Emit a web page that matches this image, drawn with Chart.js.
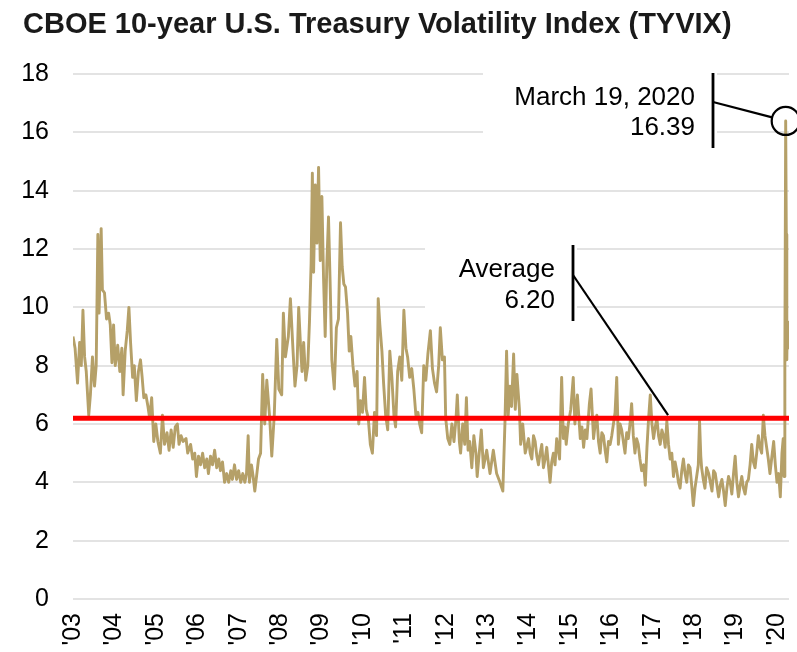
<!DOCTYPE html>
<html>
<head>
<meta charset="utf-8">
<title>TYVIX</title>
<script src="https://cdn.jsdelivr.net/npm/chart.js@4"></script>
<style>
  html, body { margin: 0; padding: 0; background: #fff; }
  canvas { display: block; }
</style>
</head>
<body>
<canvas id="chart" width="797" height="652"></canvas>
<script>
// dates as decimal years
const dates = [
  2003.00,2003.05,2003.11,2003.16,2003.20,2003.24,2003.28,2003.32,2003.38,2003.42,2003.47,2003.52,2003.56,2003.60,2003.63,2003.68,2003.71,2003.76,2003.81,2003.86,2003.90,2003.94,2003.98,
  2004.02,2004.08,2004.13,2004.18,2004.21,2004.26,2004.31,2004.35,2004.39,2004.44,2004.48,2004.53,2004.58,2004.63,2004.67,2004.71,2004.76,2004.81,2004.85,2004.90,2004.95,
  2005.00,2005.05,2005.11,2005.16,2005.21,2005.27,2005.32,2005.37,2005.42,2005.47,2005.52,2005.56,2005.61,2005.66,2005.73,2005.77,2005.84,2005.89,2005.94,2005.98,
  2006.03,2006.08,2006.13,2006.18,2006.23,2006.27,2006.32,2006.37,2006.42,2006.47,2006.52,2006.56,2006.61,2006.66,2006.71,2006.76,2006.81,2006.85,2006.90,2006.95,
  2007.00,2007.05,2007.10,2007.15,2007.19,2007.23,2007.26,2007.31,2007.35,2007.39,2007.44,2007.48,2007.53,2007.58,2007.63,2007.68,2007.75,2007.80,2007.86,2007.92,2007.97,
  2008.04,2008.08,2008.13,2008.20,2008.25,2008.31,2008.36,2008.41,2008.45,2008.49,2008.53,2008.57,2008.62,2008.67,2008.71,2008.75,2008.78,2008.81,2008.85,2008.89,2008.93,2008.97,
  2009.01,2009.05,2009.09,2009.13,2009.17,2009.21,2009.25,2009.31,2009.36,2009.41,2009.46,2009.50,2009.54,2009.58,2009.63,2009.67,2009.71,2009.76,2009.81,2009.86,2009.90,2009.94,2009.99,
  2010.04,2010.08,2010.13,2010.18,2010.23,2010.28,2010.33,2010.37,2010.41,2010.46,2010.50,2010.55,2010.60,2010.65,2010.70,2010.75,2010.79,2010.84,2010.89,2010.94,2010.99,
  2011.04,2011.08,2011.13,2011.18,2011.23,2011.28,2011.33,2011.37,2011.42,2011.47,2011.52,2011.57,2011.63,2011.68,2011.73,2011.78,2011.83,2011.87,2011.92,2011.97,
  2012.00,2012.05,2012.10,2012.15,2012.20,2012.25,2012.28,2012.33,2012.36,2012.41,2012.46,2012.50,2012.54,2012.58,2012.63,2012.68,2012.73,2012.76,2012.81,2012.86,2012.91,2012.99,
  2013.07,2013.15,2013.23,2013.31,2013.38,2013.43,2013.47,2013.51,2013.55,2013.59,2013.64,2013.68,2013.72,2013.78,2013.81,2013.86,2013.92,
  2014.00,2014.04,2014.08,2014.12,2014.16,2014.20,2014.24,2014.28,2014.32,2014.36,2014.40,2014.44,2014.48,2014.52,2014.56,2014.60,2014.64,2014.68,2014.72,2014.75,2014.80,2014.84,2014.88,2014.91,2014.96,
  2015.02,2015.08,2015.12,2015.18,2015.25,2015.29,2015.33,2015.37,2015.41,2015.47,2015.51,2015.57,2015.61,2015.65,2015.69,2015.73,2015.77,2015.81,2015.85,2015.89,2015.93,2015.97,
  2016.01,2016.05,2016.09,2016.13,2016.17,2016.21,2016.25,2016.29,2016.33,2016.37,2016.41,2016.45,2016.49,2016.53,2016.57,2016.61,2016.65,2016.69,2016.73,2016.78,2016.82,2016.86,2016.90,2016.94,2016.98,
  2017.02,2017.06,2017.10,2017.14,2017.18,2017.22,2017.26,2017.30,2017.34,2017.38,2017.42,2017.46,2017.50,2017.54,2017.58,2017.62,2017.66,2017.70,2017.74,2017.78,2017.82,2017.86,2017.90,2017.94,2017.98,
  2018.02,2018.06,2018.10,2018.13,2018.16,2018.18,2018.22,2018.26,2018.30,2018.35,2018.39,2018.43,2018.47,2018.51,2018.55,2018.59,2018.63,2018.67,2018.71,2018.75,2018.79,2018.83,2018.87,2018.91,2018.95,2018.99,
  2019.03,2019.07,2019.11,2019.15,2019.19,2019.23,2019.27,2019.31,2019.35,2019.39,2019.43,2019.47,2019.51,2019.55,2019.59,2019.63,2019.67,2019.71,2019.75,2019.79,2019.83,2019.87,2019.92,2019.96,
  2020.00,2020.04,2020.08,2020.12,2020.15,2020.17,2020.19,2020.21,2020.225,2020.235,2020.24,2020.25,2020.26
];
const tyvix = [
  9.0,8.6,7.4,8.8,8.0,9.9,8.3,7.8,6.3,7.0,8.3,7.3,8.0,12.5,9.8,12.7,10.6,10.5,9.6,9.8,9.4,8.1,9.4,
  8.0,8.7,7.8,8.6,7.0,8.5,9.2,10.0,8.8,7.6,8.0,6.8,7.8,8.2,7.6,6.9,7.0,6.6,6.2,6.9,5.4,
  6.0,5.4,5.0,6.3,5.3,5.7,5.1,5.8,5.2,5.9,6.0,5.3,5.6,5.4,5.5,5.0,5.3,4.8,5.0,4.2,
  4.9,4.6,5.0,4.5,4.8,4.3,4.9,4.6,5.1,4.5,4.8,4.4,4.7,4.0,4.3,4.0,4.4,4.1,4.6,4.1,
  4.4,4.0,4.3,4.0,4.3,5.6,4.0,4.6,4.2,3.7,4.3,4.8,5.0,7.7,6.0,7.5,6.2,4.9,6.3,8.9,7.2,
  7.0,9.8,8.3,9.0,10.3,8.6,7.3,8.0,10.0,8.8,7.8,8.8,7.5,8.0,9.5,11.5,14.6,11.2,14.2,12.2,14.8,11.6,
  13.8,11.0,9.0,11.5,13.1,10.8,8.2,7.2,9.3,9.6,12.9,11.4,10.8,10.7,9.8,8.5,9.0,8.0,7.3,7.8,6.0,6.8,6.4,
  7.6,6.5,6.2,5.3,5.0,6.4,5.6,10.3,9.4,8.5,7.4,6.3,5.8,8.5,7.6,6.3,5.9,7.8,8.3,7.5,9.9,
  8.6,8.3,7.6,7.9,7.2,6.3,6.4,6.0,5.7,8.0,7.5,8.4,9.2,7.9,7.4,7.1,8.0,9.3,8.2,8.3,
  6.2,5.5,5.3,6.0,5.4,6.2,7.0,5.4,5.0,6.0,5.3,6.9,5.1,5.4,4.5,5.6,5.0,4.2,5.0,5.8,4.5,5.1,
  4.3,5.1,4.3,4.0,3.7,6.0,8.5,6.3,7.3,6.6,8.4,6.5,7.7,6.5,5.3,6.0,5.0,
  5.5,5.0,4.8,5.6,5.4,4.9,4.6,5.0,5.3,4.5,4.8,5.2,4.6,4.0,4.7,5.0,4.6,5.5,5.1,4.8,7.6,5.5,5.9,5.3,6.0,
  6.5,7.6,6.0,7.0,5.5,5.9,5.2,5.8,5.5,6.7,7.2,5.5,6.0,6.3,5.4,5.0,5.7,5.6,5.1,4.7,5.4,5.3,
  5.6,6.0,6.4,7.6,5.3,6.0,5.8,5.4,5.0,5.7,5.5,6.0,6.7,5.6,5.0,5.5,5.3,4.8,4.4,4.6,3.9,5.2,6.2,7.0,6.0,
  5.5,5.9,6.2,5.6,5.3,5.8,5.6,5.2,6.1,5.3,4.8,5.0,4.2,4.7,4.4,4.0,3.8,4.4,4.8,4.3,4.0,4.6,4.5,3.9,3.2,
  3.8,4.2,4.6,6.1,4.9,4.5,4.1,3.8,4.5,4.3,4.0,3.7,4.4,4.3,3.9,3.5,3.9,4.1,3.7,3.2,3.8,4.2,4.0,3.6,4.3,4.9,
  4.0,3.5,3.9,4.2,3.8,3.6,4.0,4.1,4.6,5.3,4.7,4.5,5.0,5.6,5.2,5.0,6.3,5.6,5.2,4.8,4.3,4.8,5.4,4.6,
  4.0,4.3,3.5,5.0,5.5,4.2,8.3,16.39,12.5,9.6,8.2,9.5,8.6
];
const average = 6.20;
const peakDate = 2020.21;
const peakValue = 16.39;
const avgPointDate = 2017.37;

const yearTicks = [2003,2004,2005,2006,2007,2008,2009,2010,2011,2012,2013,2014,2015,2016,2017,2018,2019,2020];
const yearLabels = ["'03","'04","'05","'06","'07","'08","'09","'10","'11","'12","'13","'14","'15","'16","'17","'18","'19","'20"];

const FONT = '"Liberation Sans", Arial, sans-serif';

// title + callouts drawn on the canvas
const callouts = {
  id: 'callouts',
  beforeDatasetsDraw(chart) {
    const ctx = chart.ctx;
    ctx.save();
    // white boxes behind the callout text hide the gridlines
    ctx.fillStyle = '#fff';
    ctx.fillRect(483, 62, 234, 90);
    ctx.fillRect(425, 236, 152, 90);
    ctx.fillStyle = '#000';
    ctx.font = '26px ' + FONT;
    ctx.textAlign = 'right';
    ctx.textBaseline = 'alphabetic';
    ctx.fillText('March 19, 2020', 695, 105);
    ctx.fillText(peakValue.toFixed(2), 695, 135);
    ctx.fillText('Average', 555, 277);
    ctx.fillText(average.toFixed(2), 555, 308);
    ctx.restore();
  },
  afterDatasetsDraw(chart) {
    const { ctx, scales: { x, y } } = chart;
    ctx.save();
    ctx.strokeStyle = '#000';
    ctx.lineWidth = 2.8;
    ctx.beginPath();
    ctx.moveTo(713, 73); ctx.lineTo(713, 148);
    ctx.moveTo(573, 245); ctx.lineTo(573, 321);
    ctx.stroke();

    ctx.lineWidth = 2.2;
    const cx = x.getPixelForValue(peakDate);
    const cy = y.getPixelForValue(peakValue);
    const r = 14;
    ctx.beginPath();
    ctx.arc(cx, cy, r, 0, Math.PI * 2);
    ctx.stroke();

    const sx = 713, sy = 102;
    const a = Math.atan2(cy - sy, cx - sx);
    ctx.beginPath();
    ctx.moveTo(sx, sy);
    ctx.lineTo(cx - r * Math.cos(a), cy - r * Math.sin(a));
    ctx.stroke();

    ctx.beginPath();
    ctx.moveTo(573, 275);
    ctx.lineTo(x.getPixelForValue(avgPointDate), y.getPixelForValue(average) - 3);
    ctx.stroke();
    ctx.restore();
  },
  afterDraw(chart) {
    const ctx = chart.ctx;
    ctx.save();
    ctx.fillStyle = '#1a1a1a';
    ctx.font = 'bold 29px ' + FONT;
    ctx.textAlign = 'left';
    ctx.textBaseline = 'alphabetic';
    ctx.fillText('CBOE 10-year U.S. Treasury Volatility Index (TYVIX)', 23, 33);
    ctx.restore();
  }
};

new Chart(document.getElementById('chart'), {
  type: 'line',
  data: {
    datasets: [
      {
        label: 'Average',
        data: [{ x: yearTicks[0], y: average }, { x: 2020.29, y: average }],
        borderColor: '#ff0000',
        borderWidth: 5,
        pointRadius: 0,
        order: 0
      },
      {
        label: 'TYVIX',
        data: dates.map((d, i) => ({ x: d, y: tyvix[i] })),
        borderColor: '#b5a068',
        borderWidth: 2.9,
        borderJoinStyle: 'round',
        pointRadius: 0,
        tension: 0,
        order: 1
      }
    ]
  },
  options: {
    responsive: false,
    animation: false,
    devicePixelRatio: 1,
    layout: { padding: { top: 74, right: 8, left: 0, bottom: 0 } },
    plugins: {
      legend: { display: false },
      tooltip: { enabled: false },
      title: { display: false }
    },
    scales: {
      x: {
        type: 'linear',
        min: 2003,
        max: 2020.29,
        afterBuildTicks: (scale) => { scale.ticks = yearTicks.map(v => ({ value: v })); },
        afterFit: (scale) => {
          scale.height = 53;
          scale.paddingLeft = 0;
          scale.paddingRight = 0;
        },
        grid: { display: false },
        border: { display: false },
        ticks: {
          autoSkip: false,
          minRotation: 90,
          maxRotation: 90,
          padding: 6,
          color: '#000',
          font: { family: FONT, size: 25 },
          callback: (v) => yearLabels[yearTicks.indexOf(v)]
        }
      },
      y: {
        min: 0,
        max: 18,
        afterFit: (scale) => { scale.width = 73; },
        grid: { color: '#e3e3e3', lineWidth: 2, drawTicks: false },
        border: { display: false },
        ticks: {
          stepSize: 2,
          padding: 24,
          color: '#000',
          font: { family: FONT, size: 25 }
        }
      }
    }
  },
  plugins: [callouts]
});
</script>
</body>
</html>
